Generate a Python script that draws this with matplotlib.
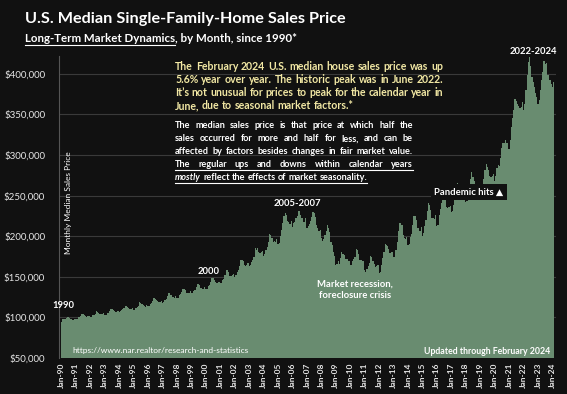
import matplotlib
matplotlib.use("Agg")
import matplotlib.pyplot as plt
from matplotlib.lines import Line2D
import numpy as np

# Monthly median single-family sales price, $K (Jan..Dec per row)
prices_1990s = [
    94.0, 97.5, 98.5, 98.0, 98.8, 101.0, 100.0, 99.0, 97.5, 96.5, 97.0, 97.8,
    97.5, 98.5, 100.0, 100.8, 101.5, 104.5, 104.0, 103.0, 101.5, 101.0, 101.5, 102.0,
    100.5, 101.0, 103.0, 103.5, 104.5, 107.5, 107.0, 106.0, 104.5, 104.0, 104.5, 105.0,
    103.0, 103.5, 105.0, 106.0, 107.5, 110.5, 110.0, 109.0, 107.5, 107.0, 106.5, 108.0,
    107.0, 107.5, 109.0, 110.0, 111.5, 114.5, 114.0, 113.0, 111.0, 110.5, 110.0, 111.5,
    109.5, 109.0, 111.0, 112.5, 114.5, 118.5, 118.0, 116.5, 115.0, 113.5, 113.0, 115.5,
    114.0, 114.5, 116.5, 118.0, 120.0, 123.5, 123.0, 121.5, 120.0, 118.5, 119.0, 120.5,
    118.0, 119.5, 121.5, 123.0, 126.0, 130.5, 129.5, 128.0, 125.5, 125.0, 124.5, 126.0,
    123.5, 124.5, 127.0, 128.5, 131.0, 135.5, 135.0, 133.5, 130.5, 130.0, 130.5, 132.0,
    129.5, 130.0, 132.5, 134.0, 137.0, 141.5, 141.0, 139.5, 136.0, 135.5, 135.0, 137.5,
]
prices_2000s = [
    134.5, 135.0, 139.0, 140.5, 143.5, 148.5, 148.0, 146.0, 143.5, 142.0, 142.5, 143.5,
    142.0, 143.0, 146.5, 147.5, 152.0, 158.0, 158.0, 156.0, 151.5, 151.0, 152.0, 153.0,
    150.0, 152.0, 155.5, 158.5, 163.0, 171.0, 170.5, 170.0, 164.0, 163.5, 164.5, 167.0,
    163.0, 164.5, 168.0, 171.0, 175.0, 185.0, 183.0, 186.0, 180.0, 179.0, 180.0, 182.0,
    176.0, 177.5, 183.0, 187.0, 193.0, 203.0, 202.0, 198.0, 193.5, 194.0, 193.0, 197.0,
    190.0, 192.0, 200.0, 208.0, 216.0, 225.0, 228.0, 226.0, 219.0, 217.0, 215.0, 219.0,
    211.0, 216.0, 218.0, 222.0, 225.0, 231.0, 231.0, 226.0, 222.0, 218.0, 217.0, 222.0,
    210.0, 212.0, 215.0, 219.0, 224.0, 230.0, 229.0, 224.0, 214.0, 210.0, 207.0, 208.0,
    198.0, 194.0, 197.0, 202.0, 206.0, 214.0, 210.0, 205.0, 193.0, 189.0, 181.0, 176.0,
    165.0, 166.0, 169.0, 166.0, 173.0, 181.0, 178.0, 177.0, 172.0, 172.0, 172.0, 170.0,
]
prices_2010s = [
    165.0, 165.0, 170.0, 172.0, 175.0, 184.0, 183.0, 178.0, 171.0, 171.0, 170.0, 170.0,
    158.0, 156.0, 160.0, 163.0, 167.0, 176.0, 174.0, 170.0, 166.0, 162.0, 163.0, 165.0,
    155.0, 156.0, 164.0, 173.0, 180.0, 190.0, 189.0, 188.0, 184.0, 179.0, 181.0, 181.0,
    174.0, 174.0, 183.0, 193.0, 207.0, 216.0, 216.0, 214.0, 201.0, 198.0, 197.0, 199.0,
    189.0, 190.0, 199.0, 203.0, 214.0, 225.0, 225.0, 220.0, 210.0, 210.0, 207.0, 211.0,
    200.0, 204.0, 213.0, 220.0, 231.0, 241.0, 239.0, 232.0, 223.0, 222.0, 221.0, 226.0,
    213.0, 214.0, 226.0, 234.0, 241.0, 254.0, 252.0, 245.0, 236.0, 235.0, 236.0, 237.0,
    230.0, 231.0, 239.0, 248.0, 257.0, 266.0, 262.0, 256.0, 248.0, 249.0, 250.0, 251.0,
    242.0, 244.0, 253.0, 263.0, 271.0, 279.0, 273.0, 268.0, 260.0, 258.0, 258.0, 256.0,
    251.0, 251.0, 262.0, 271.0, 282.0, 289.0, 285.0, 281.0, 274.0, 273.0, 274.0, 277.0,
]
prices_2020s = [
    268.0, 274.0, 284.0, 288.0, 286.0, 296.0, 309.0, 315.0, 315.0, 318.0, 315.0, 315.0,
    307.0, 318.0, 334.0, 346.0, 356.0, 369.0, 366.0, 363.0, 360.0, 358.0, 359.0, 365.0,
    355.0, 363.0, 380.0, 398.0, 414.0, 421.0, 410.0, 396.0, 390.0, 384.0, 376.0, 372.0,
    363.0, 368.0, 380.0, 393.0, 402.0, 416.0, 412.0, 413.0, 399.0, 398.0, 392.0, 387.0,
    384.0, 390.0,
]

tick_years = list(range(1990, 2025))
tick_labels = [f"Jan-{y % 100:02d}" for y in tick_years]
y_ticks = [50000, 100000, 150000, 200000, 250000, 300000, 350000, 400000]

yellow_lines = [
    "The February 2024 U.S. median house sales price was up",
    "5.6% year over year. The historic peak was in June 2022.",
    "It\u2019s not unusual for prices to peak for the calendar year in",
    "June, due to seasonal market factors.*",
]
white_lines = [
    "The median sales price is that price at which half the",
    "sales occurred for more and half for less, and can be",
    "affected by factors besides changes in fair market value.",
    "The regular ups and downs within calendar years",
    "mostly reflect the effects of market seasonality.",
]

W, H = 567, 394
BG = "#111111"
BAR = "#698c70"
FONT = ["Lato", "DejaVu Sans"]

plt.rcParams["font.family"] = FONT

prices = np.array(prices_1990s + prices_2000s + prices_2010s + prices_2020s) * 1000
x = np.arange(len(prices))

fig = plt.figure(figsize=(W / 100, H / 100), dpi=100, facecolor=BG)
ax = fig.add_axes([59 / W, 1 - 358 / H, (556 - 59) / W, (358 - 56) / H])
ax.set_facecolor(BG)
ax.bar(x, prices, width=1.0, color=BAR, linewidth=0)
ax.set_xlim(-2, 411)
ax.set_ylim(50000, 422000)
ax.set_yticks(y_ticks)
ax.set_yticklabels([f"${v:,.0f}" for v in y_ticks], color="#e6e6e6", fontsize=7)
ax.set_xticks([12 * (y - 1990) for y in tick_years])
ax.set_xticklabels(tick_labels, rotation=90, color="#e6e6e6", fontsize=6,
                   fontweight="bold")
ax.tick_params(length=0, pad=3)
ax.tick_params(axis="y", pad=10)
ax.set_axisbelow(True)
ax.grid(axis="y", color="#3a3a3a", linewidth=0.8)
for s in ["top", "right", "bottom"]:
    ax.spines[s].set_visible(False)
ax.spines["left"].set_color("#555555")
ax.spines["left"].set_linewidth(0.8)


def px(xp, yp):
    return xp / W, 1 - yp / H


def ftext(xp, yp, s, **kw):
    fx, fy = px(xp, yp)
    return fig.text(fx, fy, s, **kw)


def underline(x0, x1, yp, color, lw=0.8):
    fig.add_artist(Line2D([x0 / W, x1 / W], [1 - yp / H, 1 - yp / H],
                          transform=fig.transFigure, color=color, linewidth=lw))


renderer = fig.canvas.get_renderer()


def text_width(s, **kw):
    t = fig.text(0, 0, s, **kw)
    w = t.get_window_extent(renderer).width
    t.remove()
    return w


def justified(lines, x0, x1, y0, dy, color, size, ul_from=None, italic_words=()):
    for i, line in enumerate(lines):
        yp = y0 + i * dy
        words = line.split()
        styles = ["italic" if (i == len(lines) - 1 and j == 0 and w in italic_words)
                  else "normal" for j, w in enumerate(words)]
        widths = [text_width(w, fontsize=size, fontweight="bold", fontstyle=st)
                  for w, st in zip(words, styles)]
        last = i == len(lines) - 1
        if last or len(words) < 2:
            gap = text_width("a b", fontsize=size, fontweight="bold") - \
                text_width("ab", fontsize=size, fontweight="bold")
        else:
            gap = (x1 - x0 - sum(widths)) / (len(words) - 1)
        cx = x0
        for w, st, wd in zip(words, styles, widths):
            ftext(cx, yp, w, color=color, fontsize=size, fontweight="bold",
                  fontstyle=st, va="center", ha="left")
            cx += wd + gap
        if ul_from is not None and i >= ul_from:
            underline(x0, cx - gap, yp + 6, color)


# titles
ftext(25, 19, "U.S. Median Single-Family-Home Sales Price", color="white",
      fontsize=11.7, fontweight="bold", va="center")
sub1 = "Long-Term Market Dynamics"
ftext(25, 38, sub1, color="white", fontsize=8.3, fontweight="bold", va="center")
w1 = text_width(sub1, fontsize=8.3, fontweight="bold")
ftext(25 + w1, 38, ", by Month, since 1990*", color="white", fontsize=8.3,
      fontweight="bold", va="center")
underline(25, 25 + w1, 45, "white")

# commentary blocks
justified(yellow_lines, 175, 443, 66, 13.3, "#f2e8a4", 7.6)
justified(white_lines, 175, 413, 126, 12.8, "white", 6.6, ul_from=3,
          italic_words=("mostly",))

# annotations
ann = dict(color="white", fontsize=6.8, fontweight="bold", va="center")
ftext(63, 305, "1990", ha="center", **ann)
ftext(209, 271, "2000", ha="center", **ann)
ftext(297, 204, "2005-2007", ha="center", **ann)
ftext(355, 284, "Market recession,", ha="center", **ann)
ftext(355, 296, "foreclosure crisis", ha="center", **ann)
ftext(533, 52, "2022-2024", ha="center", **ann)
ftext(469, 192, "Pandemic hits \u25b2", ha="center",
      bbox=dict(boxstyle="square,pad=0.4", facecolor=BG, edgecolor="none"),
      **ann)
ftext(72, 351, "https://www.nar.realtor/research-and-statistics", color="white",
      fontsize=6, va="center", ha="left")
ftext(550, 352, "Updated through February 2024", color="white", fontsize=6.3,
      fontweight="bold", va="center", ha="right")
ftext(68, 203, "Monthly Median Sales Price", color="white", fontsize=6,
      rotation=90, va="center", ha="center")

fig.savefig("out.png", dpi=100, facecolor=BG)
